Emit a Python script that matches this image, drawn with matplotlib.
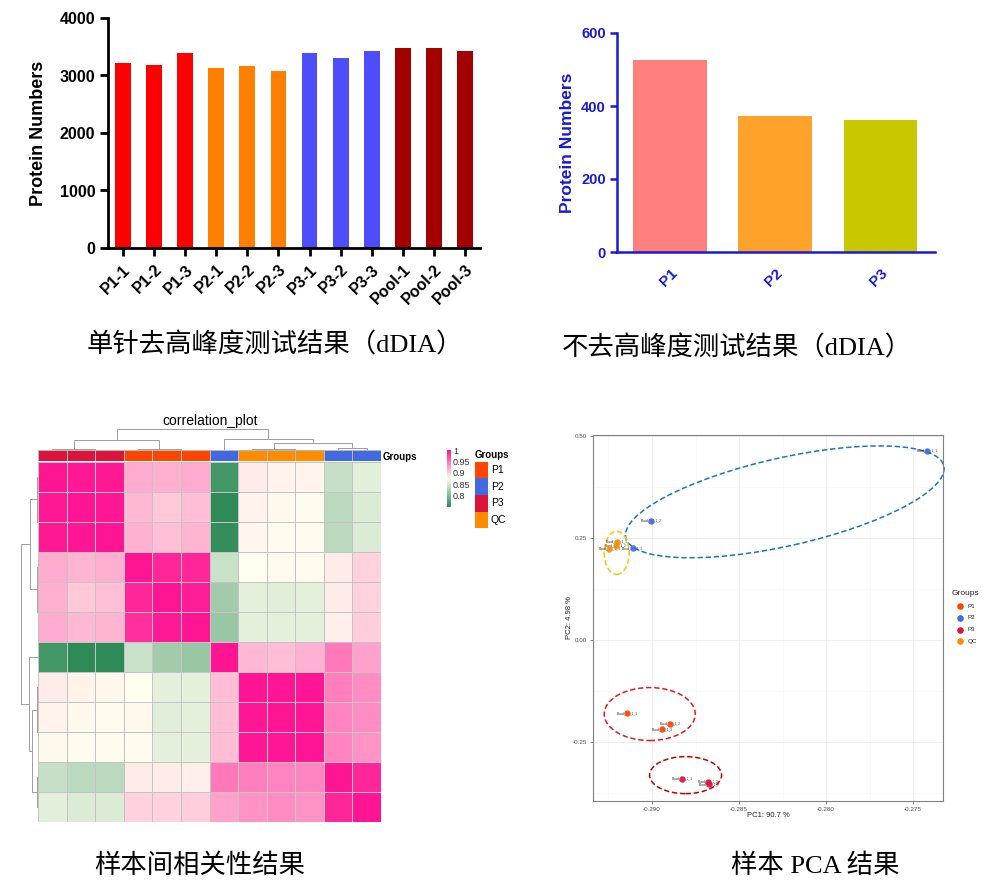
import numpy as np
import matplotlib
matplotlib.use('Agg')
import matplotlib.pyplot as plt
from matplotlib.colors import LinearSegmentedColormap, ListedColormap
from matplotlib.patches import Ellipse
from matplotlib.ticker import MultipleLocator, FixedLocator
import matplotlib.transforms as mtrans

plt.rcParams['font.family'] = ['Liberation Sans', 'Noto Sans CJK SC', 'DejaVu Sans']

# ---------------- data ----------------
# panel 1: protein numbers per injection (depleted, dDIA)
samples1 = ['P1-1', 'P1-2', 'P1-3', 'P2-1', 'P2-2', 'P2-3',
            'P3-1', 'P3-2', 'P3-3', 'Pool-1', 'Pool-2', 'Pool-3']
counts1 = [3217, 3177, 3391, 3136, 3159, 3072, 3397, 3299, 3432, 3478, 3478, 3432]
groups1 = ['P1', 'P1', 'P1', 'P2', 'P2', 'P2', 'P3', 'P3', 'P3', 'Pool', 'Pool', 'Pool']

# panel 2: non-depleted
samples2 = ['P1', 'P2', 'P3']
counts2 = [527, 372, 362]

# panel 3: correlation matrix (clustered order)
col_groups = ['P3', 'P3', 'P3', 'P1', 'P1', 'P1', 'P2', 'QC', 'QC', 'QC', 'P2', 'P2']
corr = [
    [1.000, 0.998, 0.998, 0.920, 0.918, 0.920, 0.765, 0.886, 0.882, 0.881, 0.843, 0.859],
    [0.998, 1.000, 0.999, 0.913, 0.905, 0.910, 0.752, 0.882, 0.879, 0.877, 0.836, 0.855],
    [0.998, 0.999, 1.000, 0.917, 0.909, 0.915, 0.755, 0.880, 0.877, 0.877, 0.836, 0.855],
    [0.920, 0.915, 0.918, 1.000, 0.990, 0.990, 0.845, 0.876, 0.878, 0.877, 0.886, 0.900],
    [0.918, 0.905, 0.909, 0.990, 1.000, 0.995, 0.820, 0.860, 0.858, 0.860, 0.886, 0.900],
    [0.920, 0.913, 0.915, 0.985, 0.997, 1.000, 0.815, 0.860, 0.860, 0.860, 0.884, 0.902],
    [0.765, 0.752, 0.752, 0.845, 0.820, 0.815, 1.000, 0.913, 0.910, 0.917, 0.947, 0.925],
    [0.886, 0.882, 0.880, 0.876, 0.860, 0.860, 0.910, 1.000, 0.999, 0.999, 0.943, 0.937],
    [0.882, 0.879, 0.877, 0.879, 0.858, 0.860, 0.910, 0.999, 1.000, 0.999, 0.940, 0.937],
    [0.879, 0.877, 0.877, 0.877, 0.860, 0.860, 0.910, 0.999, 0.999, 1.000, 0.940, 0.933],
    [0.843, 0.836, 0.836, 0.886, 0.886, 0.884, 0.947, 0.943, 0.940, 0.940, 1.000, 0.990],
    [0.859, 0.855, 0.855, 0.900, 0.900, 0.902, 0.925, 0.933, 0.937, 0.933, 0.990, 1.000],
]
# dendrogram merges: (node_a, node_b, height); leaves 0..11, new nodes 12..
merges = [(1, 2, 1.0), (0, 12, 2.5), (4, 5, 1.0), (3, 14, 2.5), (13, 15, 30.0),
          (8, 9, 1.0), (7, 17, 2.0), (10, 11, 5.0), (18, 19, 20.0), (6, 20, 32.0),
          (16, 21, 60.0)]

# panel 4: PCA
pca_groups = ['P1', 'P1', 'P1', 'P2', 'P2', 'P2', 'P3', 'P3', 'P3', 'QC', 'QC', 'QC']
pca_labels = ['Blood_P1_1_1', 'Blood_P1_1_2', 'Blood_P1_1_3',
              'Blood_P2_1_1', 'Blood_P2_1_2', 'Blood_P2_1_3',
              'Blood_P3_1_1', 'Blood_P3_1_2', 'Blood_P3_1_3',
              'Blood_QC_1_1', 'Blood_QC_1_2', 'Blood_QC_1_3']
pc1 = [-0.29142, -0.28897, -0.28943, -0.27421, -0.29007, -0.29111,
       -0.28826, -0.28680, -0.28672, -0.29203, -0.29207, -0.29245]
pc2 = [-0.1797, -0.2059, -0.2189, 0.4632, 0.2917, 0.2248,
       -0.3407, -0.3473, -0.3537, 0.2394, 0.2304, 0.2223]
# hand-drawn group ellipses: centre (data), width/height (px), angle
ellipses = [((-0.28237, 0.3382), 326, 88, 12.7, '#1874CD'),
            ((-0.29203, 0.2132), 25, 43, 0, '#FFC000'),
            ((-0.29013, -0.1819), 91, 53, 0, '#E31A1C'),
            ((-0.28807, -0.3316), 72, 37, 0, '#C00000')]

# ---------------- figure ----------------
W, H = 998, 888
fig = plt.figure(figsize=(W / 100, H / 100), dpi=100)


def rect(x0, y0, x1, y1):
    return [x0 / W, 1 - y1 / H, (x1 - x0) / W, (y1 - y0) / H]


# overlay for text in pixel coords
ov = fig.add_axes([0, 0, 1, 1], zorder=10)
ov.set_xlim(0, W)
ov.set_ylim(H, 0)
ov.set_axis_off()

cap_font = ['Liberation Serif', 'Noto Sans CJK SC']

# ---------------- panel 1 ----------------
col1 = {'P1': '#FF0000', 'P2': '#FF8000', 'P3': '#4D4DFA', 'Pool': '#A30000'}
ax1 = fig.add_axes(rect(108, 18, 480, 248))
x1 = np.arange(len(samples1))
ax1.bar(x1, counts1, width=0.51, color=[col1[g] for g in groups1])
ax1.set_xlim(-0.48, 11.48)
ax1.set_ylim(0, 4000)
ax1.set_yticks([0, 1000, 2000, 3000, 4000])
ax1.set_xticks(x1)
ax1.set_xticklabels(samples1, rotation=45, ha='right', va='top', rotation_mode='anchor')
for s in ['top', 'right']:
    ax1.spines[s].set_visible(False)
for s in ['left', 'bottom']:
    ax1.spines[s].set_linewidth(2)
ax1.tick_params(width=2, length=6, labelsize=11.5, pad=3)
ax1.tick_params(axis='x', pad=4)
for t in ax1.get_xticklabels() + ax1.get_yticklabels():
    t.set_fontweight('bold')
ov.text(39, 133, 'Protein Numbers', rotation=90, ha='center', va='center',
        fontsize=13, fontweight='bold')
ov.text(275, 345, '单针去高峰度测试结果（dDIA）', ha='center', va='center',
        fontsize=19, family=cap_font)

# ---------------- panel 2 ----------------
blue = '#1A1AD0'
col2 = ['#FF7F7F', '#FFA22B', '#C8C800']
ax2 = fig.add_axes(rect(617, 33, 935, 252))
x2 = np.arange(len(samples2))
ax2.bar(x2, counts2, width=0.70, color=col2)
ax2.set_xlim(-0.504, 2.518)
ax2.set_ylim(0, 600)
ax2.set_yticks([0, 200, 400, 600])
ax2.set_xticks(x2)
ax2.set_xticklabels(samples2, rotation=45, ha='right', va='top', rotation_mode='anchor')
for s in ['top', 'right']:
    ax2.spines[s].set_visible(False)
for s in ['left', 'bottom']:
    ax2.spines[s].set_linewidth(1.8)
    ax2.spines[s].set_color(blue)
ax2.tick_params(axis='y', width=1.8, length=5, labelsize=10.5, colors=blue, pad=3)
ax2.tick_params(axis='x', length=0, labelsize=11, colors=blue, pad=10)
for t in ax2.get_xticklabels() + ax2.get_yticklabels():
    t.set_fontweight('bold')
ov.text(568, 143, 'Protein Numbers', rotation=90, ha='center', va='center',
        fontsize=12.5, fontweight='bold', color=blue)
ov.text(737, 348, '不去高峰度测试结果（dDIA）', ha='center', va='center',
        fontsize=19, family=cap_font)

# ---------------- panel 3: heatmap ----------------
grp_col = {'P1': '#FF4500', 'P2': '#4169E1', 'P3': '#DC143C', 'QC': '#FF8C00'}
cmap = LinearSegmentedColormap.from_list('gp', [(0, '#2E8B57'), (0.5, '#FFFFF0'), (1, '#FF1493')])
vmin, vmax = 0.752, 1.0
n = len(col_groups)
M = np.array(corr)

axh = fig.add_axes(rect(38, 462, 381, 822))
axh.pcolormesh(np.arange(n + 1), np.arange(n + 1), M, cmap=cmap, vmin=vmin, vmax=vmax,
               edgecolors='#C4C4C4', linewidth=0.5)
axh.set_xlim(0, n)
axh.set_ylim(n, 0)
axh.set_axis_off()

axg = fig.add_axes(rect(38, 450, 381, 461.5))
gidx = {g: i for i, g in enumerate(['P1', 'P2', 'P3', 'QC'])}
gcmap = ListedColormap([grp_col[g] for g in ['P1', 'P2', 'P3', 'QC']])
axg.pcolormesh(np.arange(n + 1), [0, 1], np.array([[gidx[g] for g in col_groups]]),
               cmap=gcmap, vmin=-0.5, vmax=3.5, edgecolors='#B8B8B8', linewidth=0.4)
axg.set_xlim(0, n)
axg.set_axis_off()


def dendro_segments():
    pos = {i: i + 0.5 for i in range(n)}
    hgt = {i: 0.0 for i in range(n)}
    segs = []
    nid = n
    for a, b, h in merges:
        segs.append(([pos[a], pos[a], pos[b], pos[b]], [hgt[a], h, h, hgt[b]]))
        pos[nid] = (pos[a] + pos[b]) / 2
        hgt[nid] = h
        nid += 1
    return segs


segs = dendro_segments()
dcol = '#9E9E9E'
axt = fig.add_axes(rect(38, 429, 381, 450))
for xs, ys in segs:
    axt.plot(xs, ys, color=dcol, lw=0.7, solid_capstyle='butt')
axt.set_xlim(0, n)
axt.set_ylim(0, 61)
axt.set_axis_off()

axl = fig.add_axes(rect(21, 462, 38, 822))
for xs, ys in segs:
    axl.plot(ys, xs, color=dcol, lw=0.7, solid_capstyle='butt')
axl.set_ylim(n, 0)
axl.set_xlim(61, 0)
axl.set_axis_off()

ov.text(210, 421, 'correlation_plot', ha='center', va='center', fontsize=10)
ov.text(383, 456.5, 'Groups', ha='left', va='center', fontsize=7, fontweight='bold')

cax = fig.add_axes(rect(447, 450, 451, 507))
grad = np.linspace(vmin, vmax, 200).reshape(-1, 1)
cax.imshow(grad, cmap=cmap, vmin=vmin, vmax=vmax, aspect='auto', origin='lower',
           extent=[0, 1, vmin, vmax])
cax.set_xticks([])
cax.yaxis.tick_right()
cax.set_yticks([0.8, 0.85, 0.9, 0.95, 1.0])
cax.set_yticklabels(['0.8', '0.85', '0.9', '0.95', '1'])
cax.tick_params(axis='y', length=0, pad=1.5, labelsize=6.5, colors='#333333')
for s in cax.spines.values():
    s.set_visible(False)

ov.text(475, 454.5, 'Groups', ha='left', va='center', fontsize=7, fontweight='bold')
axlg = fig.add_axes(rect(475, 462, 488, 528))
order = ['P1', 'P2', 'P3', 'QC']
axlg.pcolormesh([0, 1], np.arange(5), np.arange(4).reshape(-1, 1), cmap=gcmap,
                vmin=-0.5, vmax=3.5)
axlg.set_ylim(4, 0)
axlg.set_axis_off()
for i, g in enumerate(order):
    ov.text(491, 462 + 16.5 * (i + 0.5), g, ha='left', va='center', fontsize=7.5)

ov.text(200, 866, '样本间相关性结果', ha='center', va='center', fontsize=19, family=cap_font)

# ---------------- panel 4: PCA ----------------
axp = fig.add_axes(rect(593, 435, 943, 801))
axp.set_xlim(-0.29339, -0.27328)
axp.set_ylim(-0.395, 0.502)
axp.xaxis.set_major_locator(FixedLocator([-0.290, -0.285, -0.280, -0.275]))
axp.yaxis.set_major_locator(FixedLocator([-0.25, 0.0, 0.25, 0.50]))
axp.set_xticklabels(['-0.290', '-0.285', '-0.280', '-0.275'])
axp.set_yticklabels(['-0.25', '0.00', '0.25', '0.50'])
axp.xaxis.set_minor_locator(MultipleLocator(0.0025))
axp.yaxis.set_minor_locator(MultipleLocator(0.125))
axp.grid(which='major', color='#EBEBEB', lw=0.6)
axp.grid(which='minor', color='#F5F5F5', lw=0.4)
axp.set_axisbelow(True)
axp.tick_params(which='major', length=2, width=0.5, color='#555555', labelsize=4.5,
                labelcolor='#4D4D4D', pad=2)
axp.tick_params(which='minor', length=0)
for s in axp.spines.values():
    s.set_color('#808080')
    s.set_linewidth(0.8)

for (cx, cy), wpx, hpx, ang, c in ellipses:
    tr = fig.dpi_scale_trans + mtrans.ScaledTranslation(cx, cy, axp.transData)
    e = Ellipse((0, 0), wpx / 100, hpx / 100, angle=ang, transform=tr, fill=False,
                edgecolor=c, lw=1.1, linestyle=(0, (3.5, 1.8)), clip_on=False, zorder=2)
    axp.add_patch(e)

for xv, yv, g, lab in zip(pc1, pc2, pca_groups, pca_labels):
    axp.text(xv, yv, lab, fontsize=2.3, color='#333333', ha='center', va='center', zorder=3)
for g in order:
    xs = [x for x, gg in zip(pc1, pca_groups) if gg == g]
    ys = [y for y, gg in zip(pc2, pca_groups) if gg == g]
    axp.scatter(xs, ys, s=18, color=grp_col[g], edgecolors=grp_col[g], linewidths=0.3,
                zorder=4, alpha=0.9)

ov.text(768, 815, 'PC1: 90.7 %', ha='center', va='center', fontsize=5.5, color='#222222')
ov.text(570, 618, 'PC2: 4.98 %', ha='center', va='center', fontsize=5.5, rotation=90,
        color='#222222')

ov.text(952, 593, 'Groups', ha='left', va='center', fontsize=6, color='#222222')
for i, g in enumerate(order):
    yy = 606 + 11.8 * i
    ov.scatter([960], [yy], s=14, color=grp_col[g], zorder=11)
    ov.text(968, yy, g, ha='left', va='center', fontsize=4.5, color='#222222')

ov.text(815, 866, '样本 PCA 结果', ha='center', va='center', fontsize=19, family=cap_font)

fig.savefig('out.png', dpi=100)
